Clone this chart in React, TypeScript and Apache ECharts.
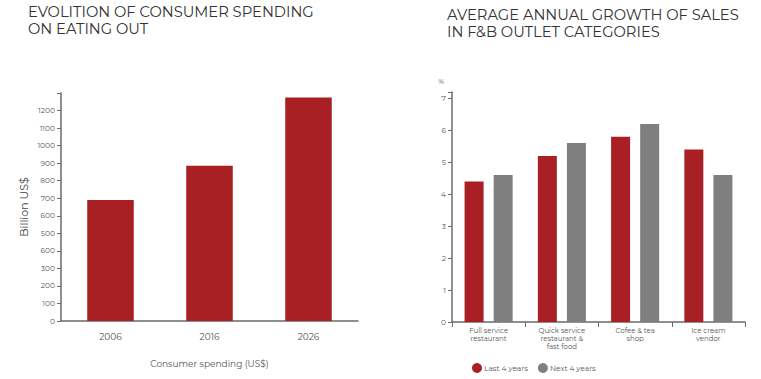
import React, { useEffect, useRef } from "react";
import * as echarts from "echarts";

const spendYears = ["2006", "2016", "2026"];
const spendValues = [690, 885, 1275];
const spendTickLabels: Record<number, string> = {
  0: "0", 100: "100", 200: "200", 300: "300", 400: "600", 500: "500",
  600: "600", 700: "700", 800: "800", 900: "900", 1000: "1000", 1100: "1100", 1200: "1200",
};

const outletCategories = [
  "Full service\nrestaurant",
  "Quick service\nrestaurant &\nfast food",
  "Cofee & tea\nshop",
  "Ice cream\nvendor",
];
const lastFourYears = [4.4, 5.2, 5.8, 5.4];
const nextFourYears = [4.6, 5.6, 6.2, 4.6];

const leftTitleLines = ["EVOLITION OF CONSUMER SPENDING", "ON EATING OUT"];
const rightTitleLines = ["AVERAGE ANNUAL GROWTH OF SALES", "IN F&B OUTLET CATEGORIES"];

const RED = "#a81f24";
const GREY = "#7f7f80";
const AXIS = "#6b6b6b";
const LABEL = "#555";
const FONT = "Montserrat, 'Open Sans', sans-serif";

export default function App() {
  const ref = useRef<HTMLDivElement>(null);
  useEffect(() => {
    const chart = echarts.init(ref.current!, null, { renderer: "svg" });
    const titleStyle = { fontSize: 14.7, fontWeight: "normal", color: "#333", fontFamily: FONT };
    chart.setOption({
      animation: false,
      textStyle: { fontFamily: FONT },
      title: [
        { text: leftTitleLines[0], left: 28, top: 4, padding: 0, textStyle: titleStyle },
        { text: leftTitleLines[1], left: 28, top: 21, padding: 0, textStyle: titleStyle },
        { text: rightTitleLines[0], left: 447, top: 7, padding: 0, textStyle: titleStyle },
        { text: rightTitleLines[1], left: 447, top: 24, padding: 0, textStyle: titleStyle },
      ],
      legend: {
        data: ["Last 4 years", "Next 4 years"],
        left: 467, top: 358,
        icon: "circle", itemWidth: 10, itemHeight: 10, itemGap: 10,
        textStyle: { fontSize: 7.5, color: LABEL, padding: [0, 0, 0, -3] },
      },
      grid: [
        { left: 61, top: 93, right: 403, bottom: 58 },
        { left: 452, top: 92, right: 16, bottom: 57 },
      ],
      xAxis: [
        {
          gridIndex: 0, type: "category", data: spendYears,
          axisLine: { lineStyle: { color: AXIS, width: 1.5 } },
          axisTick: { show: false },
          axisLabel: { fontSize: 9, color: LABEL, margin: 11 },
          name: "Consumer spending (US$)", nameLocation: "middle", nameGap: 38,
          nameTextStyle: { fontSize: 9, color: LABEL },
        },
        {
          gridIndex: 1, type: "category", data: outletCategories,
          axisLine: { lineStyle: { color: AXIS, width: 1.5 } },
          axisTick: { show: true, length: 5, lineStyle: { color: AXIS } },
          axisLabel: { fontSize: 7, color: LABEL, lineHeight: 8, margin: 4, interval: 0 },
        },
      ],
      yAxis: [
        {
          gridIndex: 0, type: "value", min: 0, max: 1300, interval: 100,
          axisLine: { show: true, lineStyle: { color: AXIS, width: 1.5 } },
          axisTick: { show: true, length: 4, lineStyle: { color: AXIS } },
          splitLine: { show: false },
          axisLabel: {
            fontSize: 7.5, color: LABEL, margin: 6,
            formatter: (v: number) => spendTickLabels[v] ?? "",
          },
          name: "Billion US$", nameLocation: "middle", nameGap: 32,
          nameTextStyle: { fontSize: 11, color: "#444" },
        },
        {
          gridIndex: 1, type: "value", min: 0, max: 7.2, interval: 1,
          axisLine: { show: true, lineStyle: { color: AXIS, width: 1.5 } },
          axisTick: { show: true, length: 4, lineStyle: { color: AXIS } },
          splitLine: { show: false },
          axisLabel: {
            fontSize: 7.5, color: LABEL, margin: 6,
            formatter: (v: number) => (Number.isInteger(v) ? String(v) : ""),
          },
          name: "%", nameLocation: "end", nameGap: 7,
          nameTextStyle: { fontSize: 7, color: LABEL, align: "right", padding: [0, 8, 0, 0] },
        },
      ],
      series: [
        {
          type: "bar", xAxisIndex: 0, yAxisIndex: 0, data: spendValues,
          barWidth: "47%", itemStyle: { color: RED },
        },
        {
          name: "Last 4 years", type: "bar", xAxisIndex: 1, yAxisIndex: 1, data: lastFourYears,
          barWidth: 19, barGap: "53%", itemStyle: { color: RED },
        },
        {
          name: "Next 4 years", type: "bar", xAxisIndex: 1, yAxisIndex: 1, data: nextFourYears,
          barWidth: 19, barGap: "53%", itemStyle: { color: GREY },
        },
      ],
    });
    return () => chart.dispose();
  }, []);
  return <div ref={ref} style={{ width: 761, height: 379, position: "absolute", left: 0, top: 0 }} />;
}
